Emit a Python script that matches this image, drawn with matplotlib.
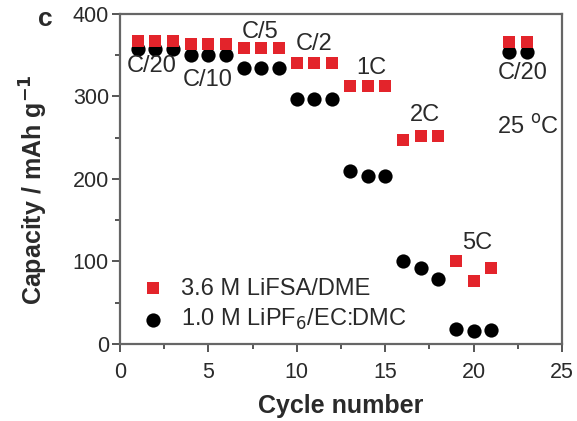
import numpy as np
import matplotlib
matplotlib.use("Agg")
import matplotlib.pyplot as plt
from matplotlib.ticker import MultipleLocator

plt.rcParams['font.family'] = ['Liberation Sans', 'DejaVu Sans']

# rate capability data
cycles_fsa = [1, 2, 3, 4, 5, 6, 7, 8, 9, 10, 11, 12, 13, 14, 15, 16, 17, 18, 19, 20, 21, 22, 23]
cap_fsa = [367, 367, 367, 364, 364, 364, 359, 359, 359, 341, 341, 341, 313, 313, 313,
           247, 252, 252, 101, 76, 92, 366, 366]
cycles_pf6 = [1, 2, 3, 4, 5, 6, 7, 8, 9, 10, 11, 12, 13, 14, 15, 16, 17, 18, 19, 20, 21, 22, 23]
cap_pf6 = [357, 357, 357, 350, 350, 350, 334, 334, 334, 297, 297, 297, 209, 204, 204,
           100, 92, 79, 18, 16, 17, 354, 354]

rate_labels = ["C/20", "C/10", "C/5", "C/2", "1C", "2C", "5C", "C/20"]
rate_pos = [(1.8, 337), (4.98, 320), (7.9, 378), (11.0, 364), (14.2, 334),
            (17.25, 278), (20.2, 122), (22.8, 328)]

txt_color = '#2a2a2a'

fig = plt.figure(figsize=(5.77, 4.21), dpi=100)
ax = fig.add_axes([0.208, 0.183, 0.766, 0.784])

ax.scatter(cycles_fsa, cap_fsa, marker='s', s=85, color='#e3242b', linewidths=0,
           label='3.6 M LiFSA/DME', zorder=3)
ax.scatter(cycles_pf6, cap_pf6, marker='o', s=105, color='black', linewidths=0,
           label='1.0 M LiPF$_6$/EC:DMC', zorder=2)

for txt, (x, y) in zip(rate_labels, rate_pos):
    ax.text(x, y, txt, fontsize=17, ha='center', va='center', color=txt_color)
ax.text(24.85, 263, '25 $^{\\mathrm{o}}$C', fontsize=17, ha='right', va='center', color=txt_color)

ax.set_xlim(0, 25)
ax.set_ylim(0, 400)
ax.xaxis.set_major_locator(MultipleLocator(5))
ax.xaxis.set_minor_locator(MultipleLocator(2.5))
ax.yaxis.set_major_locator(MultipleLocator(100))
ax.yaxis.set_minor_locator(MultipleLocator(50))
ax.tick_params(which='both', direction='out', labelsize=15.5, color='#555555',
               labelcolor=txt_color, pad=2)
ax.tick_params(axis='x', which='both', pad=7)
ax.tick_params(which='major', length=6, width=1.4)
ax.tick_params(which='minor', length=3.5, width=1.4)
for sp in ax.spines.values():
    sp.set_color('#666666')
    sp.set_linewidth(1.6)

ax.set_xlabel('Cycle number', fontsize=18, fontweight='bold', labelpad=8, color=txt_color)
ax.set_ylabel('Capacity / mAh g$^{\\mathbf{-1}}$', fontsize=18, fontweight='bold',
              color=txt_color)
ax.yaxis.set_label_coords(-0.158, 0.467)

ax.legend(loc='lower left', bbox_to_anchor=(0.0, -0.022), frameon=False, fontsize=17,
          handlelength=1.2, handletextpad=0.6, labelspacing=0.32, borderaxespad=0.4,
          borderpad=0.4, labelcolor=txt_color)

fig.text(0.078, 0.955, 'c', fontsize=19, fontweight='bold', va='center', ha='center',
         color=txt_color)

fig.savefig('out.png', dpi=100)
